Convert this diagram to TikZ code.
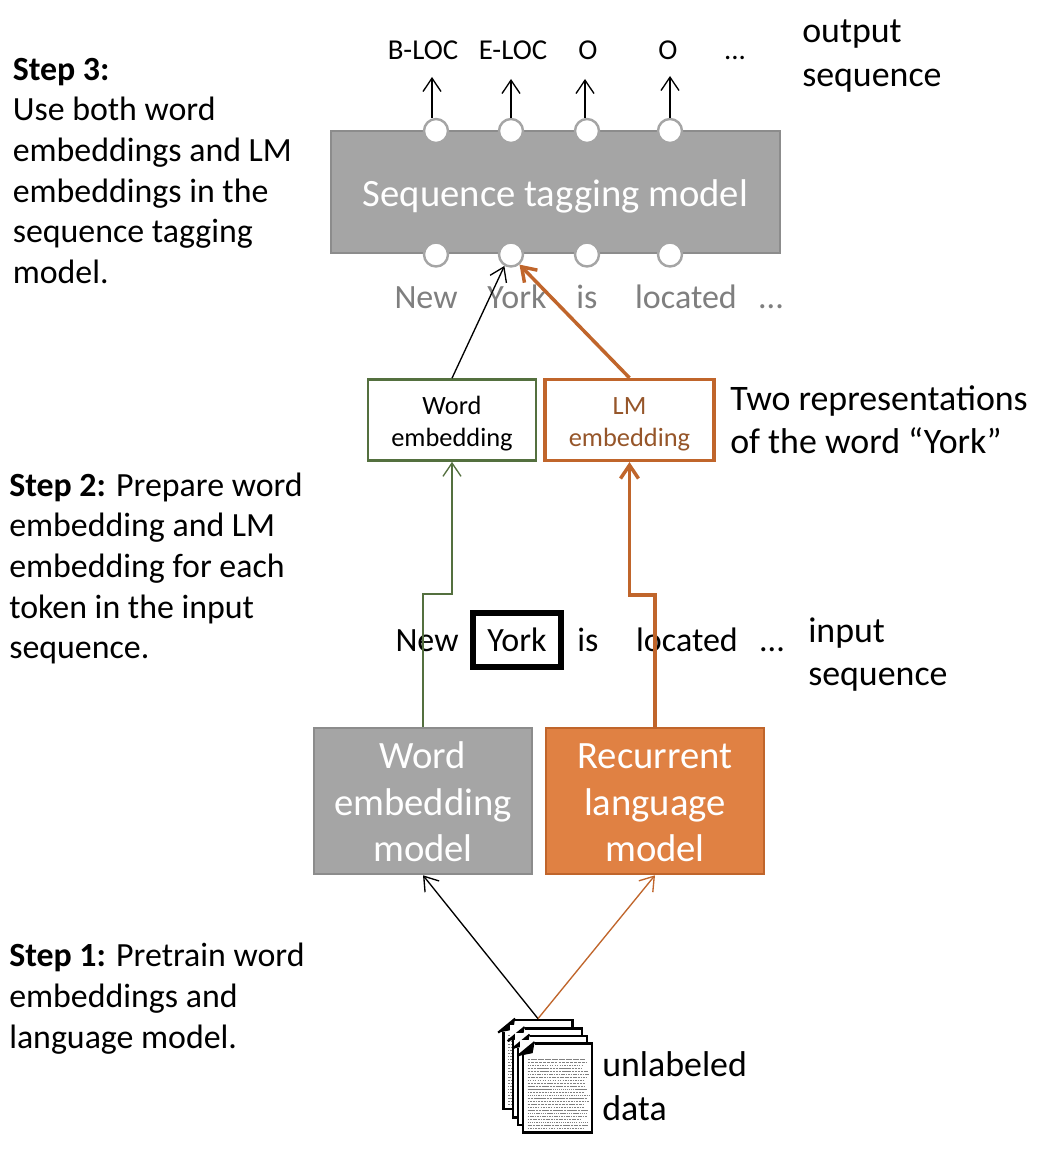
\documentclass[tikz,border=0pt]{standalone}
\usepackage{fontspec}
\setmainfont{Carlito}
\usepackage{xcolor}
\usetikzlibrary{arrows.meta}
\usetikzlibrary{calc}
\definecolor{modelgray}{HTML}{A5A5A5}
\definecolor{modelline}{HTML}{8C8C8C}
\definecolor{wordgreen}{HTML}{54703F}
\definecolor{lmorange}{HTML}{C0652B}
\definecolor{lmfill}{HTML}{E08143}
\definecolor{lmtext}{HTML}{96562A}
\definecolor{tokengray}{HTML}{7F7F7F}
\newcommand{\fs}[2]{\fontsize{#1}{#2}\selectfont}
\newcommand{\lift}[1]{\rule{0pt}{#1}}
\tikzset{>={Straight Barb[length=10pt,width=13.5pt]}}
\tikzset{
  model/.style={draw=modelline,line width=1.9pt,fill=modelgray,text=white,inner sep=0pt,align=center},
  port/.style={circle,draw=modelgray,fill=white,line width=1.8pt,minimum size=18pt,inner sep=0pt},
  embed/.style={fill=white,line width=2pt,inner sep=0pt,align=center,minimum width=126pt,minimum height=60.75pt,font=\fs{19.8}{24}},
  note/.style={anchor=west,inner sep=0pt,align=left,font=\fs{25.4}{30.5}},
  side/.style={anchor=west,inner sep=0pt,align=left,font=\fs{26.9}{32.5}},
  tag/.style={inner sep=0pt,text height=16pt,text depth=1pt,font=\fs{21.6}{25}},
  token/.style={inner sep=0pt,text height=18pt,text depth=1.5pt,font=\fs{25.5}{30}},
  thinline/.style={line width=1pt},
  thickline/.style={line width=2.6pt,lmorange},
  docpage/.style={draw=black,fill=white,line width=1.8pt,inner sep=0pt,minimum width=52pt,minimum height=67pt}
}
\begin{document}
\begin{tikzpicture}[x=.75pt,y=-.75pt]
  \useasboundingbox[fill=white] (0,0) rectangle (1060,1170);

  % notes on the left
  \node[note] (stepthree) at (12.5,171) {\textbf{Step 3:}\\Use both word\\embeddings and LM\\embeddings in the\\sequence tagging\\model.};
  \node[note] (steptwo) at (9,568.5) {\textbf{Step 2:} Prepare word\\embedding and LM\\embedding for each\\token in the input\\sequence.};
  \node[note] (stepone) at (9,998.5) {\textbf{Step 1:} Pretrain word\\embeddings and\\language model.};

  % tagging model with its ports
  \node[model,minimum width=336.75pt,minimum height=91.5pt,font=\fs{29}{34}] (tagger) at (555.5,192) {\lift{27pt}Sequence tagging model};
  \foreach \name/\px in {1/436,2/511,3/587,4/670}{
    \node[port] (top\name) at (\px,131) {};
    \node[port] (bot\name) at (\px,254.5) {};
  }

  % output tags
  \node[tag] (tagone) at (423,50) {B-LOC};
  \node[tag] (tagtwo) at (513,50) {E-LOC};
  \node[tag] (tagthree) at (588,50) {O};
  \node[tag] (tagfour) at (668,50) {O};
  \node[tag] (tagdots) at (735,50) {...};
  \coordinate (outone) at (432,77);
  \coordinate (outtwo) at (511,79);
  \coordinate (outthree) at (585,79);
  \coordinate (outfour) at (670,76);
  \draw[->,thinline] (outone |- top1.north) -- (outone);
  \draw[->,thinline] (outtwo |- top2.north) -- (outtwo);
  \draw[->,thinline] (outthree |- top3.north) -- (outthree);
  \draw[->,thinline] (outfour |- top4.north) -- (outfour);
  \node[side] (outlabel) at (802,56) {output\\sequence};

  % tokens under the tagging model
  \node[token,text=tokengray] (newup) at (426,297) {New};
  \node[token,text=tokengray] (yorkup) at (517,297) {York};
  \node[token,text=tokengray] (isup) at (587,297) {is};
  \node[token,text=tokengray] (locatedup) at (686,297) {located};
  \node[token,text=tokengray] (dotsup) at (771,297) {...};

  % the two embeddings
  \node[embed,draw=wordgreen] (wordbox) at (452,420) {\lift{18.5pt}Word\\embedding};
  \node[embed,draw=lmorange,text=lmtext,line width=2.4pt,minimum width=126.75pt] (lmbox) at (629.5,420) {\lift{18.5pt}LM\\embedding};
  \node[side] (twolabel) at (730,420) {Two representations\\of the word ``York''};
  \draw[->,thinline] (wordbox.north) -- (bot2.240);
  \draw[->,thickline] (lmbox.north) -- (bot2.-50);

  % input sequence
  \node[token] (newdown) at (427,640) {New};
  \node[draw=black,line width=4.2pt,inner sep=0pt,minimum width=66pt,minimum height=40.5pt,font=\fs{25.5}{30}] (yorkdown) at (517,640) {York};
  \node[token] (isdown) at (588,640) {is};
  \node[token] (locateddown) at (687,640) {located};
  \node[token] (dotsdown) at (772,640) {...};
  \node[side] (inlabel) at (808,654.5) {input\\sequence};

  % pretrained models
  \node[model,minimum width=163.5pt,minimum height=109.5pt,font=\fs{29}{35}] (wordmodel) at (423,801) {\lift{21.5pt}Word\\embedding\\model};
  \node[model,draw=lmorange,fill=lmfill,minimum width=163.5pt,minimum height=109.5pt,font=\fs{29}{35}] (lmmodel) at (655,801) {\lift{21.5pt}Recurrent\\language\\model};
  \coordinate (wordbend) at (452,594);
  \coordinate (lmbend) at (629.5,595);
  \draw[->,thinline,wordgreen] (wordmodel.north) |- (wordbend) -- (wordbox.south);
  \draw[->,thickline] (lmmodel.north) |- (lmbend) -- (lmbox.south);

  % stack of unlabeled documents
  \pgfmathsetseed{7}
  \foreach \name/\cx/\cy in {a/538/1064.5,b/547.5/1073,c/552.5/1080.5,d/557.5/1088}{
    \node[docpage] (page\name) at (\cx,\cy) {};
    \foreach \ly in {-29,-26,...,40}{
      \pgfmathsetmacro{\dashon}{.7+1.5*rnd}
      \pgfmathsetmacro{\dashoff}{.3+.6*rnd}
      \pgfmathsetmacro{\lineend}{24+8*rnd}
      \draw[black!50,line width=.7pt,dash pattern=on \dashon pt off \dashoff pt]
        ($(page\name.center)+(-30,\ly)$) -- ($(page\name.center)+(\lineend,\ly)$);
    }
    \fill[white] (page\name.north west) ++(-2,-2) rectangle ++(15,15);
    \draw[black,line width=1.6pt] (page\name.north west) ++(-4,14) -- ++(17,-14);
    \fill[black] (page\name.north west) ++(-4,14) -- ++(17,-14) -- ++(-2,11) -- cycle;
  }
  \draw[->,thinline] (pagea.north) -- (wordmodel.south);
  \draw[->,line width=1pt,lmorange] (pagea.north) -- (lmmodel.south);
  \node[side] (datalabel) at (602,1086) {unlabeled\\data};
\end{tikzpicture}
\end{document}
